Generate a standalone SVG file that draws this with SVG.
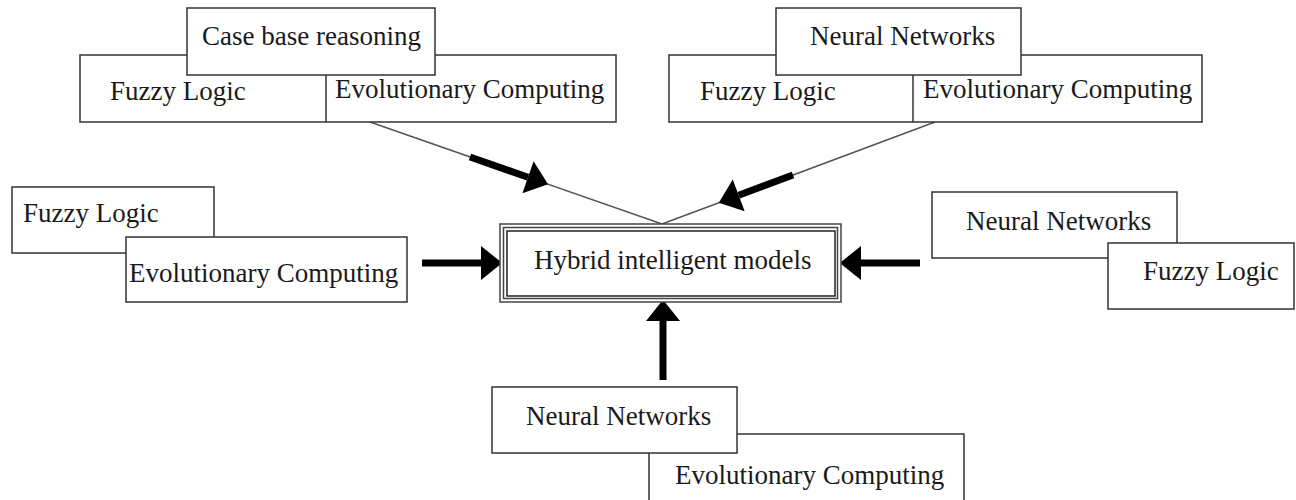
<svg xmlns="http://www.w3.org/2000/svg" width="1296" height="500" viewBox="0 0 1296 500">
<style>
.box{fill:#fff;stroke:#333;stroke-width:1.5}
.lbl{font-family:"Liberation Serif","Times New Roman",serif;font-size:27px;fill:#1a1a1a}
.thin{stroke:#555;stroke-width:1.5;fill:none}
.thick{stroke:#000;stroke-width:7;fill:none}
.frame{fill:none;stroke:#444;stroke-width:1.5}
</style>
<defs>
<marker id="ah" markerUnits="userSpaceOnUse" markerWidth="22" markerHeight="34" viewBox="0 0 20 32" refX="0" refY="16" orient="auto">
<path d="M0,0 L20,16 L0,32 Z" fill="#000"/>
</marker>
</defs>
<rect width="1296" height="500" fill="#fff"/>

<g id="connectors">
<line class="thin" x1="370" y1="122" x2="662" y2="224"/>
<line class="thin" x1="935" y1="122" x2="662" y2="224"/>
<line class="thick" x1="470" y1="157" x2="528" y2="177.2" marker-end="url(#ah)"/>
<line class="thick" x1="793" y1="175" x2="738.7" y2="195.3" marker-end="url(#ah)"/>
<line class="thick" x1="422" y1="263" x2="481" y2="263" marker-end="url(#ah)"/>
<line class="thick" x1="920" y1="263" x2="861" y2="263" marker-end="url(#ah)"/>
<line class="thick" x1="663" y1="380" x2="663" y2="321" marker-end="url(#ah)"/>
</g>

<g id="node-top-left">
<rect class="box" x="80" y="55" width="536" height="67"/>
<line x1="326" y1="55" x2="326" y2="122" stroke="#333" stroke-width="1.5"/>
<rect class="box" x="187" y="8" width="248" height="67"/>
<text class="lbl" x="202" y="45">Case base reasoning</text>
<text class="lbl" x="110" y="100">Fuzzy Logic</text>
<text class="lbl" x="335" y="98">Evolutionary Computing</text>
</g>

<g id="node-top-right">
<rect class="box" x="669" y="55" width="533" height="67"/>
<line x1="913" y1="55" x2="913" y2="122" stroke="#333" stroke-width="1.5"/>
<rect class="box" x="776" y="8" width="245" height="67"/>
<text class="lbl" x="810" y="45">Neural Networks</text>
<text class="lbl" x="700" y="100">Fuzzy Logic</text>
<text class="lbl" x="923" y="98">Evolutionary Computing</text>
</g>

<g id="node-left">
<rect class="box" x="12" y="187" width="202" height="66"/>
<text class="lbl" x="23" y="222">Fuzzy Logic</text>
<rect class="box" x="126" y="237" width="281" height="65"/>
<text class="lbl" x="129" y="282">Evolutionary Computing</text>
</g>

<g id="node-center">
<rect x="500" y="224" width="341" height="78" fill="#fff" stroke="none"/>
<rect class="frame" x="500" y="224" width="341" height="78"/>
<rect class="frame" x="503.5" y="227.5" width="334" height="71"/>
<rect x="507" y="231" width="328" height="65" fill="none" stroke="#222" stroke-width="1.5"/>
<text class="lbl" x="534" y="269">Hybrid intelligent models</text>
</g>

<g id="node-right">
<rect class="box" x="932" y="192" width="245" height="66"/>
<text class="lbl" x="966" y="230">Neural Networks</text>
<rect class="box" x="1108" y="243" width="186" height="66"/>
<text class="lbl" x="1143" y="280">Fuzzy Logic</text>
</g>

<g id="node-bottom">
<rect class="box" x="649" y="434" width="315" height="80"/>
<text class="lbl" x="675" y="484">Evolutionary Computing</text>
<rect class="box" x="492" y="387" width="245" height="66"/>
<text class="lbl" x="526" y="425">Neural Networks</text>
</g>
</svg>
